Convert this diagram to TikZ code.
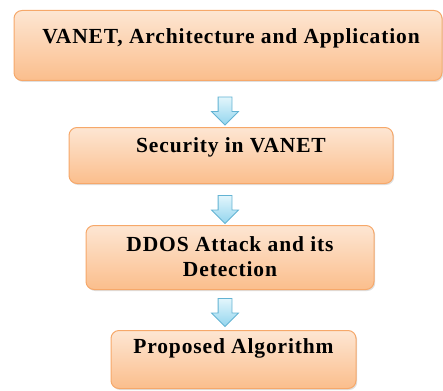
\documentclass[tikz,border=0pt]{standalone}
\usepackage{fontspec}
\setmainfont{Liberation Serif}[LetterSpace=4]
\usetikzlibrary{shapes.arrows,shadows}

\definecolor{boxtop}{HTML}{FDE6D3}
\definecolor{boxbot}{HTML}{FBBE8C}
\definecolor{boxline}{HTML}{F6A86A}
\definecolor{arrtop}{HTML}{E3F6FC}
\definecolor{arrbot}{HTML}{93D5EE}
\definecolor{arrline}{HTML}{63B3D3}

\tikzset{
  stage/.style={draw=boxline, line width=1pt, rounded corners=8pt,
    top color=boxtop, bottom color=boxbot, anchor=north,
    inner xsep=0pt, inner ysep=0pt, align=center,
    font=\fontsize{21.5}{25}\selectfont\bfseries,
    drop shadow={opacity=0.25, shadow xshift=1.2pt, shadow yshift=-1.5pt}},
  downarrow/.style={single arrow, shape border rotate=270, draw=arrline,
    line width=0.8pt, top color=arrtop, bottom color=arrbot,
    minimum height=28pt, inner sep=6.5pt, single arrow head extend=6.5pt}
}

\begin{document}
\begin{tikzpicture}[x=1pt, y=-1pt]
        \useasboundingbox (0,0) rectangle (443,390);
        % the four stages
        \node[stage, minimum width=428pt, text height=33pt, text depth=37pt] (arch) at (228,10) {\hspace*{6pt}VANET, Architecture and Application};
        \node[stage, minimum width=324pt, text height=25pt, text depth=31pt] (sec) at (231,127) {Security in VANET};
        \node[stage, minimum width=288pt, text height=51pt, text depth=13pt] (ddos) at (230,225) {DDOS Attack and its\\Detection};
        \node[stage, minimum width=245pt, text height=23pt, text depth=35pt] (algo) at (233.5,330) {Proposed Algorithm};
        % block arrows between stages
        \node[downarrow] (a1) at (225,107.5) {};
        \node[downarrow] (a2) at (225,206) {};
        \node[downarrow] (a3) at (225,309) {};
\end{tikzpicture}
\end{document}
